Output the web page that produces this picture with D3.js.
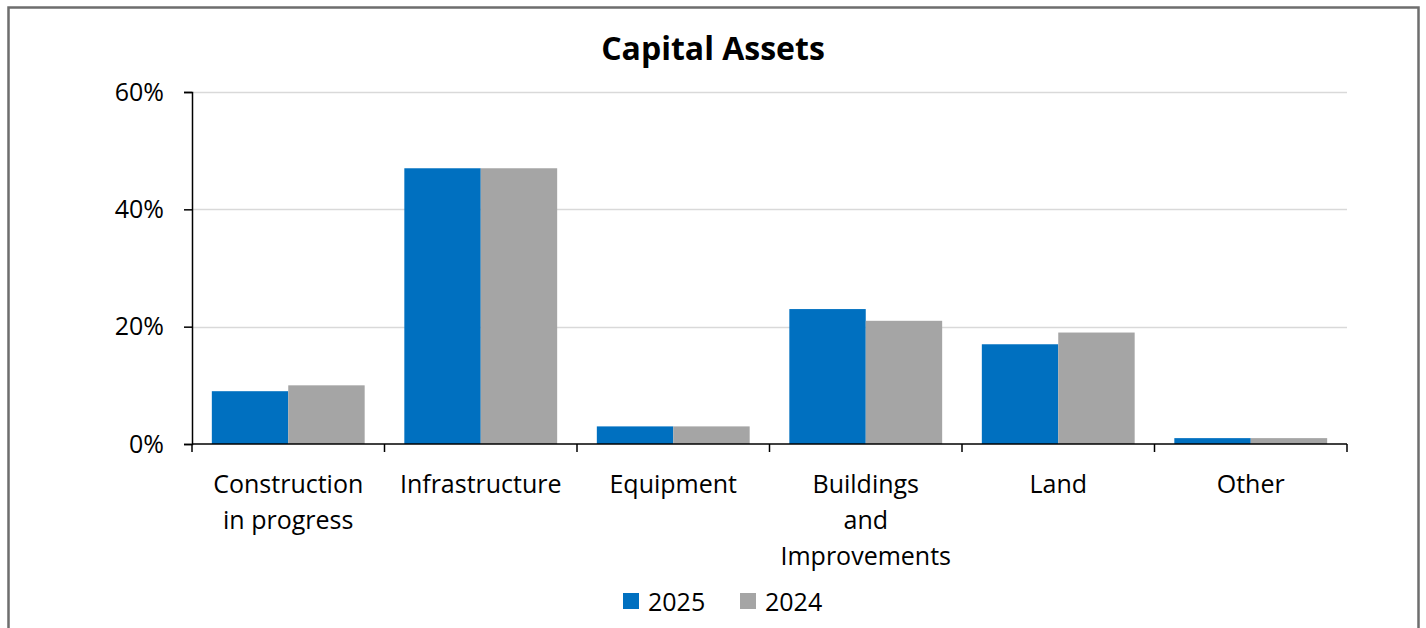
<!DOCTYPE html>
<html>
<head>
<meta charset="utf-8">
<script src="https://cdn.jsdelivr.net/npm/d3@7"></script>
<style>
  html, body { margin: 0; padding: 0; background: #fff; }
  svg { display: block; }
  text { font-family: "Open Sans", "Lato", sans-serif; fill: #000; }
</style>
</head>
<body>
<svg id="chart" width="1426" height="628"></svg>
<script>
const categories = ["Construction in progress", "Infrastructure", "Equipment", "Buildings and Improvements", "Land", "Other"];
const tickLabels = [["Construction", "in progress"], ["Infrastructure"], ["Equipment"], ["Buildings", "and", "Improvements"], ["Land"], ["Other"]];
const seriesNames = ["2025", "2024"];
const values2025 = [9, 47, 3, 23, 17, 1];
const values2024 = [10, 47, 3, 21, 19, 1];
const yTicks = [0, 20, 40, 60];
const colors = ["#0070C0", "#A5A5A5"];
const title = "Capital Assets";

(function () {
const svg = d3.select("#chart");

// outer border
svg.append("rect")
  .attr("x", 8.5).attr("y", 7.5)
  .attr("width", 1410).attr("height", 640)
  .attr("fill", "#fff").attr("stroke", "#6e6e6e").attr("stroke-width", 2.5);

const pLeft = 192, pRight = 1347, pTop = 92, pBottom = 444;

const x = d3.scaleBand().domain(categories).range([pLeft, pRight]).paddingInner(0).paddingOuter(0);
const gap = x.bandwidth() * 0.103;
const x1 = d3.scaleBand().domain(seriesNames).range([gap, x.bandwidth() - gap]).padding(0);
const y = d3.scaleLinear().domain([0, 60]).range([pBottom, pTop]);

// title
svg.append("text")
  .attr("x", 713).attr("y", 47)
  .attr("text-anchor", "middle").attr("dominant-baseline", "central")
  .style("font-size", "32px").style("font-weight", "bold")
  .text(title);

// gridlines
svg.append("g").selectAll("line").data(yTicks.filter(d => d > 0)).join("line")
  .attr("x1", pLeft).attr("x2", pRight)
  .attr("y1", d => Math.round(y(d)) + 0.5).attr("y2", d => Math.round(y(d)) + 0.5)
  .attr("stroke", "#d9d9d9").attr("stroke-width", 1.5);

// bars
const data = categories.map((c, i) => ({ cat: c, vals: [values2025[i], values2024[i]] }));
const groups = svg.append("g").selectAll("g").data(data).join("g")
  .attr("transform", d => `translate(${x(d.cat)},0)`);
groups.selectAll("rect").data(d => d.vals.map((v, j) => ({ s: seriesNames[j], v, j }))).join("rect")
  .attr("x", d => x1(d.s))
  .attr("width", x1.bandwidth())
  .attr("y", d => y(d.v))
  .attr("height", d => y(0) - y(d.v))
  .attr("fill", d => colors[d.j]);

// y axis
const yAxis = d3.axisLeft(y).tickValues(yTicks).tickFormat(d => d + "%").tickSize(8).tickPadding(20);
const gy = svg.append("g").attr("transform", `translate(${pLeft},0)`).call(yAxis);
gy.select(".domain").attr("stroke", "#000").attr("stroke-width", 1.5);
gy.selectAll(".tick line").attr("stroke", "#000").attr("stroke-width", 1.5);
gy.selectAll(".tick text").style("font-size", "25px").attr("fill", "#000").style("font-family", "'Open Sans', sans-serif");

// x axis line and ticks at band boundaries
const gx = svg.append("g");
gx.append("line").attr("x1", pLeft).attr("x2", pRight).attr("y1", pBottom).attr("y2", pBottom)
  .attr("stroke", "#000").attr("stroke-width", 1.5);
const boundaries = categories.map(c => x(c)).concat([x(categories[categories.length - 1]) + x.bandwidth()]);
gx.selectAll("line.tk").data(boundaries).join("line").attr("class", "tk")
  .attr("x1", d => d).attr("x2", d => d).attr("y1", pBottom).attr("y2", pBottom + 8)
  .attr("stroke", "#000").attr("stroke-width", 1.5);

// category labels
const lbl = svg.append("g").selectAll("text").data(categories).join("text")
  .attr("text-anchor", "middle")
  .style("font-size", "25px")
  .attr("x", d => x(d) + x.bandwidth() / 2)
  .attr("y", 483);
lbl.each(function(d, i) {
  const t = d3.select(this);
  tickLabels[i].forEach((line, k) => {
    t.append("tspan").attr("x", x(d) + x.bandwidth() / 2).attr("y", 483 + k * 36)
      .attr("dominant-baseline", "central").text(line);
  });
});

// legend
const legendX = [623, 740];
const lg = svg.append("g").selectAll("g").data(seriesNames).join("g")
  .attr("transform", (d, i) => `translate(${legendX[i]},593)`);
lg.append("rect").attr("width", 16).attr("height", 16).attr("fill", (d, i) => colors[i]);
lg.append("text").attr("x", 25).attr("y", 8).attr("dominant-baseline", "central")
  .style("font-size", "25px").text(d => d);
})();
</script>
</body>
</html>
